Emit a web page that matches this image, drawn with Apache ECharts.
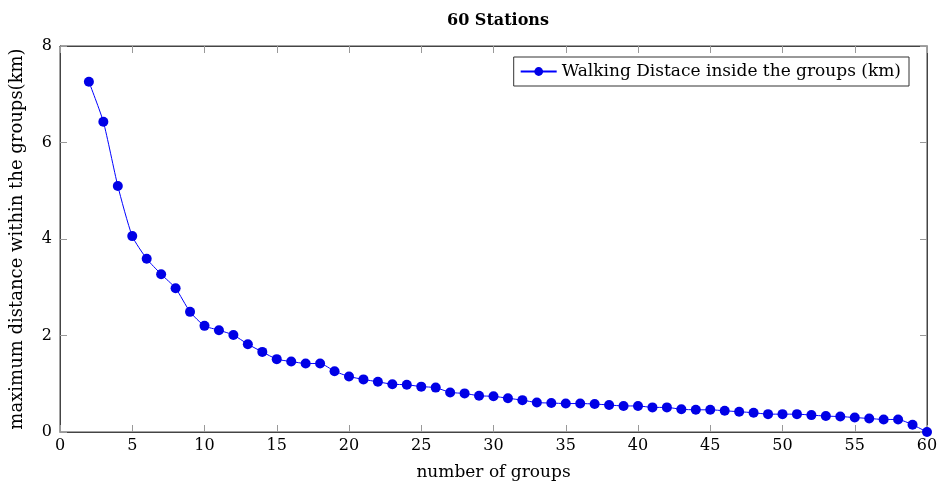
<!DOCTYPE html>
<html><head><meta charset="utf-8">
<script src="https://cdn.jsdelivr.net/npm/echarts@6/dist/echarts.min.js"></script>
<style>html,body{margin:0;padding:0;background:#fff}#c{width:938px;height:481px}</style>
</head><body><div id="c"></div>
<script>
var groups = [2,3,4,5,6,7,8,9,10,11,12,13,14,15,16,17,18,19,20,21,22,23,24,25,26,27,28,29,30,31,32,33,34,35,36,37,38,39,40,41,42,43,44,45,46,47,48,49,50,51,52,53,54,55,56,57,58,59,60];
var walking = [7.26,6.43,5.10,4.06,3.59,3.27,2.98,2.49,2.20,2.11,2.01,1.82,1.66,1.51,1.46,1.42,1.42,1.26,1.15,1.09,1.04,0.99,0.98,0.94,0.92,0.82,0.80,0.75,0.74,0.70,0.66,0.61,0.60,0.59,0.59,0.58,0.56,0.54,0.54,0.51,0.51,0.47,0.46,0.46,0.44,0.42,0.40,0.37,0.37,0.37,0.35,0.33,0.32,0.30,0.28,0.26,0.26,0.15,0.0];
var xTicks = [0,5,10,15,20,25,30,35,40,45,50,55,60];
var yTicks = [0,2,4,6,8];
var titleText = '60 Stations';
var seriesName = 'Walking Distace inside the groups (km)';
var xName = 'number of groups';
var yName = 'maximum distance within the groups(km)';

var font = 'DejaVu Serif';
var chart = echarts.init(document.getElementById('c'), null, {renderer:'canvas'});
var data = groups.map(function(g,i){return [g, walking[i]];});
function axisCommon(){ return {
  axisLine:{show:true, onZero:false, lineStyle:{color:'#444', width:1}},
  axisTick:{show:true, inside:true, length:7, lineStyle:{color:'#999', width:1}},
  splitLine:{show:false}
};}
chart.setOption({
  animation:false,
  title:{text:titleText, left:493, top:8, textAlign:'center',
    textStyle:{fontFamily:font, fontWeight:'bold', fontSize:16, color:'#000'}},
  legend:{data:[{name:seriesName}], right:29, top:57, orient:'horizontal',
    borderColor:'#333', borderWidth:1, padding:[6,8,6,6], itemWidth:36, itemHeight:11, itemGap:4,
    textStyle:{fontFamily:font, fontSize:17, color:'#000'}},
  grid:{left:60, right:11, top:46, bottom:49, show:true, borderColor:'#444', borderWidth:1,
    containLabel:false, outerBoundsMode:'none'},
  xAxis:[Object.assign({type:'value', min:0, max:60, interval:5, position:'bottom', gridIndex:0,
    name:xName, nameLocation:'middle', nameGap:32,
    nameTextStyle:{fontFamily:font, fontSize:17, color:'#000'},
    axisLabel:{fontFamily:font, fontSize:16, color:'#000', margin:6}}, axisCommon()),
    Object.assign({type:'value', min:0, max:60, interval:5, position:'top', gridIndex:0,
    axisLabel:{show:false}}, axisCommon())],
  yAxis:[Object.assign({type:'value', min:0, max:8, interval:2, position:'left', gridIndex:0,
    name:yName, nameLocation:'middle', nameGap:34,
    nameTextStyle:{fontFamily:font, fontSize:18, color:'#000'},
    axisLabel:{fontFamily:font, fontSize:16, color:'#000', margin:8}}, axisCommon()),
    Object.assign({type:'value', min:0, max:8, interval:2, position:'right', gridIndex:0,
    axisLabel:{show:false}}, axisCommon())],
  series:[{name:seriesName, type:'line', data:data, smooth:0.2, xAxisIndex:0, yAxisIndex:0,
    symbol:'circle', symbolSize:10, itemStyle:{color:'#0000e6'},
    lineStyle:{color:'#0000ff', width:1}, clip:false},
    {type:'line', data:[], xAxisIndex:1, yAxisIndex:1, silent:true}]
});
</script></body></html>
